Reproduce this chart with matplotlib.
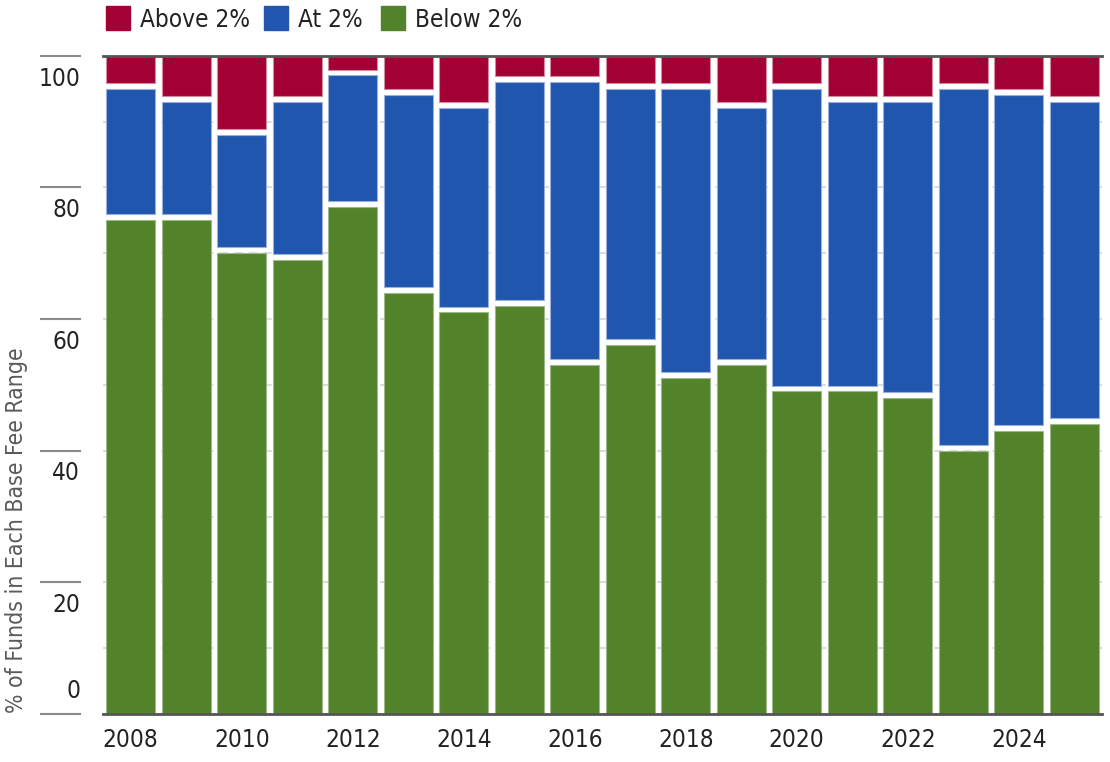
import numpy as np
import matplotlib
matplotlib.use("Agg")
import matplotlib.pyplot as plt
from matplotlib.patches import Rectangle
import matplotlib.transforms as mtransforms

plt.rcParams['font.family'] = ['DejaVu Sans']
plt.rcParams['font.stretch'] = 'condensed'

years = list(range(2008, 2026))
below = [75, 75, 70, 69, 77, 64, 61, 62, 53, 56, 51, 53, 49, 49, 48, 40, 43, 44]
at = [20, 18, 18, 24, 20, 30, 31, 34, 43, 39, 44, 39, 46, 44, 45, 55, 51, 49]
above = [5, 7, 12, 7, 3, 6, 8, 4, 4, 5, 5, 8, 5, 7, 7, 5, 6, 7]
series_names = ['Above 2%', 'At 2%', 'Below 2%']

c_red = '#A30033'
c_blue = '#2056AE'
c_green = '#52822A'

W, H = 1110, 762
fig = plt.figure(figsize=(W / 100, H / 100), dpi=100)
ax = fig.add_axes([103 / W, (H - 714) / H, (1102 - 103) / W, (714 - 55.7) / H])

x = np.arange(len(years))
below = np.array(below)
at = np.array(at)
above = np.array(above)
gap = 0.9
bw = 0.88

ax.bar(x, below, width=bw, color=c_green, edgecolor='#9DB889', linewidth=0.8, zorder=3)
ax.bar(x, at - gap, bottom=below + gap, width=bw, color=c_blue, edgecolor='#9AB0DA', linewidth=0.8, zorder=3)
ax.bar(x, above - gap, bottom=below + at + gap, width=bw, color=c_red, edgecolor='#D38AA0', linewidth=0.8, zorder=3)

ax.set_xlim(-0.5, len(years) - 0.5)
ax.set_ylim(0, 100)

ax.set_yticks(range(0, 101, 10))
ax.yaxis.grid(True, color='#dcdcdc', linestyle=(0, (4, 3)), linewidth=1.5, zorder=0)
ax.tick_params(axis='y', length=0, labelleft=False)
ax.set_axisbelow(True)

fs = 17.5
ax.set_xticks(x[::2])
ax.set_xticklabels([str(y) for y in years[::2]], fontsize=fs, color='#222222')
ax.tick_params(axis='x', length=0, pad=10)

for s in ['left', 'right']:
    ax.spines[s].set_visible(False)
for s in ['top', 'bottom']:
    ax.spines[s].set_color('#555555')
    ax.spines[s].set_linewidth(2)
    ax.spines[s].set_zorder(5)

# y tick marks with labels just below them (the 0 label sits above)
trans = mtransforms.blended_transform_factory(fig.transFigure, ax.transData)
for v in range(0, 101, 20):
    dy = 0.23 if v == 0 else -0.228
    offset = mtransforms.ScaledTranslation(0, dy, fig.dpi_scale_trans)
    ax.plot([41 / W, 80 / W], [v, v], transform=trans, color='#8a8a8a', lw=1.5, clip_on=False)
    ax.text(80 / W, v, str(v), transform=trans + offset, ha='right', va='center',
            fontsize=fs, color='#222222')

fig.text(17 / W, (H - 713) / H, '% of Funds in Each Base Fee Range', rotation=90,
         ha='center', va='bottom', fontsize=16.5, color='#5a5a5a')

# legend along the top
legend_x = [106, 264, 381]
for name, col, lx in zip(series_names, [c_red, c_blue, c_green], legend_x):
    fig.patches.append(Rectangle((lx / W, 1 - 30 / H), 24 / W, 24 / H,
                                 transform=fig.transFigure, color=col))
    fig.text((lx + 34) / W, 1 - 20 / H, name, ha='left', va='center',
             fontsize=fs, color='#222222')

fig.savefig('out.png', dpi=100)
